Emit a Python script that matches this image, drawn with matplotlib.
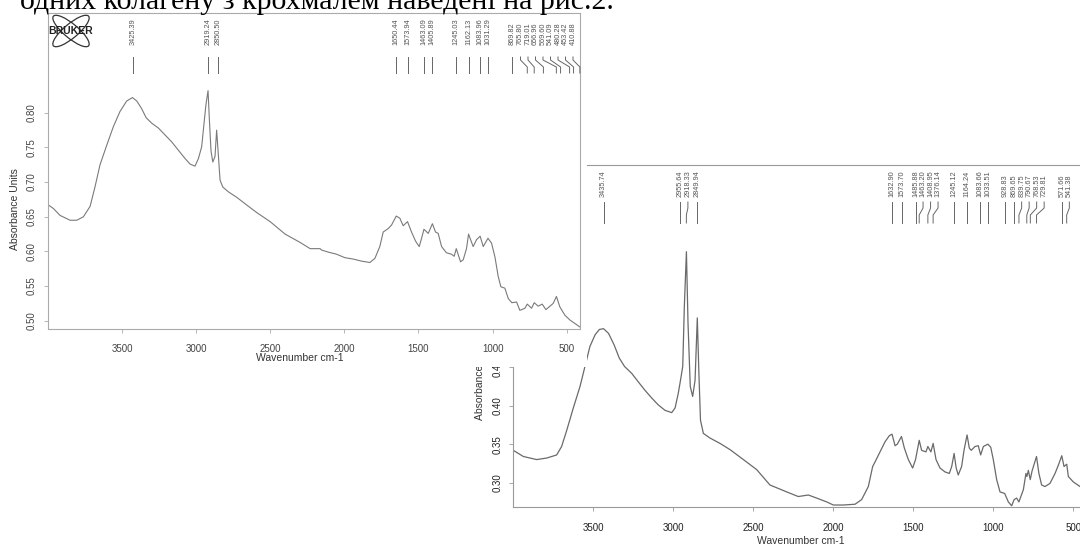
import matplotlib
matplotlib.use('Agg')

import numpy as np
import matplotlib.pyplot as plt
from matplotlib.lines import Line2D
from matplotlib.patches import Rectangle, Ellipse

W, H = 1080, 548

# left spectrum (upper chart)
left_wn = [4004, 3964, 3919, 3851, 3806, 3761, 3716, 3683, 3649, 3604, 3559, 3514, 3469, 3430,
           3401, 3368, 3338, 3300, 3255, 3210, 3165, 3120, 3075, 3041, 3008, 2985, 2963, 2947,
           2934, 2920, 2911, 2900, 2888, 2873, 2862, 2851, 2839, 2821, 2783, 2726, 2659, 2591,
           2501, 2400, 2299, 2231, 2164,
           2154, 2109, 2053, 1997, 1941, 1884, 1828, 1794, 1761, 1738, 1704, 1682, 1650, 1626,
           1603, 1574, 1547, 1520, 1495, 1479, 1463, 1434, 1406, 1385, 1367, 1344, 1311, 1277,
           1259, 1245, 1216, 1198, 1176, 1162, 1131, 1108, 1084, 1063, 1031, 1007, 984, 962,
           944, 917, 894, 870, 838, 816, 782, 766, 737, 719, 692, 665, 640, 613, 591, 569,
           546, 512, 478, 444, 411]
left_abs = [0.668, 0.662, 0.652, 0.645, 0.645, 0.650, 0.665, 0.693, 0.725, 0.753, 0.780, 0.802, 0.817, 0.822,
            0.817, 0.806, 0.793, 0.785, 0.778, 0.768, 0.758, 0.746, 0.734, 0.726, 0.723, 0.734, 0.751, 0.785,
            0.812, 0.832, 0.790, 0.745, 0.729, 0.737, 0.775, 0.741, 0.703, 0.693, 0.686, 0.678, 0.667, 0.656,
            0.643, 0.625, 0.613, 0.604, 0.604,
            0.602, 0.599, 0.596, 0.591, 0.589, 0.586, 0.584, 0.590, 0.607, 0.628, 0.633, 0.638, 0.651, 0.648,
            0.637, 0.643, 0.628, 0.615, 0.607, 0.619, 0.632, 0.626, 0.640, 0.628, 0.626, 0.607, 0.598, 0.596,
            0.593, 0.604, 0.585, 0.588, 0.604, 0.625, 0.607, 0.617, 0.622, 0.607, 0.619, 0.612, 0.592, 0.564,
            0.549, 0.547, 0.532, 0.526, 0.527, 0.515, 0.518, 0.524, 0.518, 0.526, 0.521, 0.524, 0.516, 0.521, 0.525, 0.535,
            0.520, 0.508, 0.501, 0.496, 0.491]

# right spectrum (lower chart)
right_wn = [4000, 3937, 3854, 3791, 3729, 3698, 3666, 3625, 3583, 3552, 3521, 3489, 3462, 3436,
            3405, 3370, 3338, 3305, 3260, 3219, 3177, 3135, 3094, 3052, 3010, 2989, 2969, 2955,
            2941, 2931, 2918, 2908, 2894, 2879, 2864, 2850, 2840, 2830, 2812, 2771, 2708, 2646,
            2562, 2479, 2396, 2291, 2219,
            2156, 2104, 2041, 2000, 1937, 1864, 1823, 1781, 1754, 1739, 1708, 1677, 1650, 1633,
            1614, 1600, 1574, 1556, 1531, 1504, 1486, 1463, 1448, 1421, 1409, 1390, 1376, 1358,
            1333, 1302, 1275, 1260, 1245, 1232, 1219, 1198, 1183, 1164, 1150, 1138, 1114, 1094,
            1079, 1062, 1034, 1016, 1000, 979, 958, 929, 906, 885, 870, 854, 840, 812, 796, 790,
            781, 769, 758, 730, 715, 698, 677, 646, 614, 593, 572, 558, 541, 531, 500, 458, 440]
right_abs = [0.342, 0.334, 0.330, 0.332, 0.336, 0.347, 0.368, 0.397, 0.425, 0.451, 0.477, 0.492, 0.499, 0.500,
             0.494, 0.479, 0.462, 0.451, 0.442, 0.431, 0.420, 0.410, 0.401, 0.394, 0.391, 0.397, 0.416, 0.433,
             0.451, 0.529, 0.600, 0.507, 0.425, 0.412, 0.433, 0.514, 0.442, 0.381, 0.364, 0.358, 0.351, 0.343,
             0.330, 0.317, 0.297, 0.288, 0.282,
             0.284, 0.280, 0.275, 0.271, 0.271, 0.272, 0.278, 0.295, 0.321, 0.327, 0.340, 0.353, 0.361, 0.363,
             0.348, 0.350, 0.360, 0.345, 0.330, 0.319, 0.330, 0.355, 0.342, 0.340, 0.347, 0.340, 0.351, 0.330,
             0.319, 0.314, 0.312, 0.321, 0.338, 0.319, 0.310, 0.321, 0.342, 0.362, 0.345, 0.342, 0.347, 0.348,
             0.336, 0.347, 0.350, 0.346, 0.330, 0.304, 0.288, 0.286, 0.275, 0.270, 0.278, 0.280, 0.275, 0.291, 0.312, 0.308,
             0.316, 0.304, 0.315, 0.334, 0.312, 0.297, 0.295, 0.299, 0.312, 0.323, 0.335, 0.321, 0.324, 0.308, 0.301, 0.295, 0.293]

left_peaks = [3425.39, 2919.24, 2850.50, 1650.44, 1573.94, 1463.09, 1405.89, 1245.03, 1162.13,
              1083.96, 1031.29, 869.82, 765.80, 719.01, 656.96, 569.60, 541.09, 480.28, 453.42, 410.88]
right_peaks = [3435.74, 2955.64, 2918.33, 2849.94, 1632.90, 1573.70, 1485.88, 1463.20, 1408.95,
               1376.14, 1245.12, 1164.24, 1083.66, 1033.51, 928.83, 869.65, 839.75, 790.67, 768.53,
               729.81, 571.66, 541.38]

x_ticks = [3500, 3000, 2500, 2000, 1500, 1000, 500]
left_yticks = [0.50, 0.55, 0.60, 0.65, 0.70, 0.75, 0.80]
right_yticks = [0.30, 0.35, 0.40, 0.45, 0.50, 0.55, 0.60, 0.65, 0.70]

caption = 'одних колагену з крохмалем наведені на рис.2.'

plt.rcParams['font.family'] = ['Liberation Sans', 'DejaVu Sans']


def fx(x):
    return x / W


def fy(y):
    return 1 - y / H


def box(x0, y0, x1, y1):
    return [fx(x0), fy(y1), fx(x1) - fx(x0), fy(y0) - fy(y1)]


def style_axes(ax, spine_c, label_c):
    for s in ax.spines.values():
        s.set_color(spine_c)
        s.set_linewidth(0.8)
    ax.tick_params(direction='out', length=3, width=0.6, color=spine_c,
                   labelsize=7, labelcolor=label_c, pad=5)
    for t in ax.get_yticklabels():
        t.set_rotation(90)
        t.set_va('center')


def spread(ax, peaks, gap, limit=None):
    xs = list(ax.transData.transform([(p, 0) for p in peaks])[:, 0])
    lab = list(xs)
    for i in range(1, len(lab)):
        lab[i] = max(lab[i], lab[i - 1] + gap)
    if limit is not None and lab[-1] > limit:
        lab[-1] = limit
        for i in range(len(lab) - 2, -1, -1):
            lab[i] = min(lab[i], lab[i + 1] - gap)
    return xs, lab


def peak_labels(ax, peaks, y_text, y_lines, gap, limit=None, z=5):
    xs, lab = spread(ax, peaks, gap, limit)
    y0, y1, y2, y3 = y_lines
    for p, x, lx in zip(peaks, xs, lab):
        fig.text(fx(lx), fy(y_text), '%.2f' % p, rotation=90, ha='center', va='bottom',
                 fontsize=5.3, color='#555555', zorder=z)
        fig.add_artist(Line2D([fx(lx), fx(lx), fx(x), fx(x)], [fy(y0), fy(y1), fy(y2), fy(y3)],
                              color='#666666', lw=0.7, zorder=z))


fig = plt.figure(figsize=(W / 100, H / 100), dpi=100)

# lower chart, drawn first and partly hidden by the upper one
ax2 = fig.add_axes(box(513.3, 165, 1089.3, 506.7))
ax2.set_zorder(1)
ax2.plot(right_wn, right_abs, color='#6a6a6a', lw=0.9)
ax2.set_xlim(4000, 400)
ax2.set_ylim(0.2688, 0.7126)
ax2.set_xticks(x_ticks)
ax2.set_yticks(right_yticks)
ax2.set_yticklabels(['%.2f' % v for v in right_yticks])
style_axes(ax2, '#999999', '#222222')
ax2.spines['right'].set_visible(False)
ax2.xaxis.set_tick_params(pad=9)
fig.text(fx(801), fy(541), 'Wavenumber cm-1', ha='center', va='center', fontsize=7.5,
         color='#333333', zorder=1)
fig.text(fx(480), fy(420), 'Absorbance Units', rotation=90, ha='center', va='bottom',
         fontsize=7.5, color='#333333', zorder=1)
peak_labels(ax2, right_peaks, 197, (202, 208, 215, 223), 7.5, z=1.5)

# white sheet of the upper chart covering the lower one
fig.add_artist(Rectangle((0, fy(367)), fx(587), 1 - fy(367), transform=fig.transFigure,
                         facecolor='white', edgecolor='none', zorder=2))

# upper chart
ax1 = fig.add_axes(box(48, 13, 580, 328.5))
ax1.set_zorder(3)
ax1.plot(left_wn, left_abs, color='#7a7a7a', lw=0.8)
ax1.set_xlim(4000, 410)
ax1.set_ylim(0.4888, 0.944)
ax1.set_xticks(x_ticks)
ax1.set_yticks(left_yticks)
ax1.set_yticklabels(['%.2f' % v for v in left_yticks])
style_axes(ax1, '#aaaaaa', '#444444')
ax1.xaxis.set_tick_params(pad=8)
fig.text(fx(300), fy(358), 'Wavenumber cm-1', ha='center', va='center', fontsize=7.5,
         color='#333333', zorder=4)
fig.text(fx(15), fy(209), 'Absorbance Units', rotation=90, ha='center', va='center',
         fontsize=7.5, color='#333333', zorder=4)
peak_labels(ax1, left_peaks, 45, (57, 60, 67, 73), 7.5, limit=573)

# Bruker logo
lg = fig.add_axes(box(44, 12, 98, 50))
lg.set_zorder(6)
lg.set_xlim(0, 54)
lg.set_ylim(0, 38)
lg.axis('off')
for ang in (40, -40):
    lg.add_patch(Ellipse((27, 19), 46, 14, angle=ang, fill=False, lw=0.9, color='#333333'))
lg.text(27, 19, 'BRUKER', ha='center', va='center', fontsize=7.5, fontweight='bold', color='#222222')

# cut-off line of the page text
fig.text(fx(20), fy(9), caption, ha='left', va='baseline', fontsize=21.5,
         family=['Liberation Serif', 'DejaVu Serif'], color='black', zorder=7)

fig.savefig('out.png', dpi=100, facecolor='white')
